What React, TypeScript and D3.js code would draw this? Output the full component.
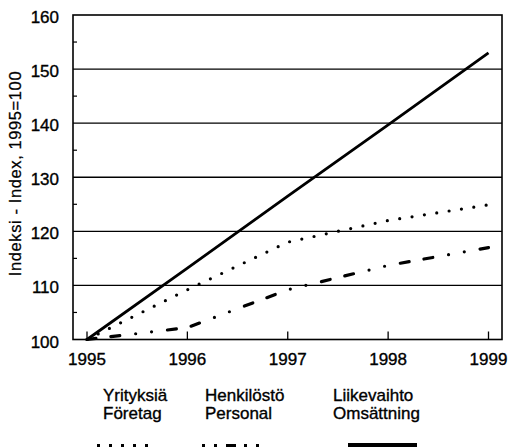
import React from 'react';
import * as d3 from 'd3';

// index 1995=100
const years = [1995, 1996, 1997, 1998, 1999];
const yrityksia = [100, 109.2, 118, 122, 124.9];
const henkilosto = [100, 102.2, 109.2, 113.7, 117];
const liikevaihto = [100, 113.2, 126.5, 139.7, 153];

const yTicks = [100, 110, 120, 130, 140, 150, 160];
const yMinor = [105, 115, 125, 135, 145, 155];

const legendFi = ['Yrityksiä', 'Henkilöstö', 'Liikevaihto'];
const legendSv = ['Företag', 'Personal', 'Omsättning'];

const width = 510;
const height = 447;
const left = 73;
const right = 502;
const top = 15;
const bottom = 339.5;
const font = '"Liberation Sans", Arial, sans-serif';

const dotted = '0 12.5';
const dashDot = '9 15 9 16 0 16 0 16';

export default function App() {
  const x = d3.scaleLinear().domain([1995, 1999]).range([87, 488.5]);
  const y = d3.scaleLinear().domain([100, 160]).range([bottom, top]);

  const line = d3.line<number>()
    .x((d, i) => x(years[i]))
    .y(d => y(d));

  const series = [
    { values: yrityksia, dash: dotted, w: 3.2, cap: 'round' },
    { values: henkilosto, dash: dashDot, w: 3.2, cap: 'round' },
    { values: liikevaihto, dash: null, w: 2.8, cap: 'butt' },
  ];

  // legend placement, pixels
  const legendX = [103, 205, 333];
  const sampleX = [[97, 157], [202, 263], [348, 417]];
  const txt = { stroke: '#000', strokeWidth: 0.35 };

  return (
    <svg width={width} height={height} style={{ position: 'absolute', left: 0, top: 0, background: '#fff' }}
      fontFamily={font}>
      {yTicks.slice(1, -1).map(t => (
        <line key={t} x1={left} x2={right} y1={y(t)} y2={y(t)} stroke="#000" strokeWidth={1.4} />
      ))}
      <rect x={left} y={top} width={right - left} height={bottom - top} fill="none" stroke="#000" strokeWidth={1.6} />
      {yMinor.map(t => (
        <line key={t} x1={left} x2={left + 4} y1={y(t)} y2={y(t)} stroke="#000" strokeWidth={1.2} />
      ))}
      {years.map(t => (
        <line key={t} x1={x(t)} x2={x(t)} y1={bottom} y2={bottom - 8} stroke="#000" strokeWidth={1.3} />
      ))}
      {yTicks.map(t => (
        <text key={t} x={59} y={y(t) + 2.5} textAnchor="end" dominantBaseline="central" fontSize={17} {...txt}>{t}</text>
      ))}
      {years.map(t => (
        <text key={t} x={x(t)} y={365} textAnchor="middle" fontSize={17} {...txt}>{t}</text>
      ))}
      <text transform="translate(21,173.5) rotate(-90)" textAnchor="middle" fontSize={16.5}
        letterSpacing={0.6} {...txt} strokeWidth={0.25}>Indeksi - Index, 1995=100</text>

      {series.map((s, i) => (
        <path key={i} d={line(s.values) || ''} fill="none" stroke="#000" strokeWidth={s.w}
          strokeDasharray={s.dash || undefined} strokeLinecap={s.cap as any} />
      ))}

      {legendFi.map((t, i) => (
        <g key={t}>
          <text x={legendX[i]} y={401} fontSize={17} {...txt}>{t}</text>
          <text x={legendX[i]} y={419} fontSize={17} {...txt}>{legendSv[i]}</text>
          <line x1={sampleX[i][0]} x2={sampleX[i][1]} y1={447} y2={447} stroke="#000"
            strokeWidth={i === 2 ? 8 : 6}
            strokeDasharray={i === 0 ? '3 9' : i === 1 ? '3 9 3 9 10 8' : undefined} />
        </g>
      ))}
    </svg>
  );
}
